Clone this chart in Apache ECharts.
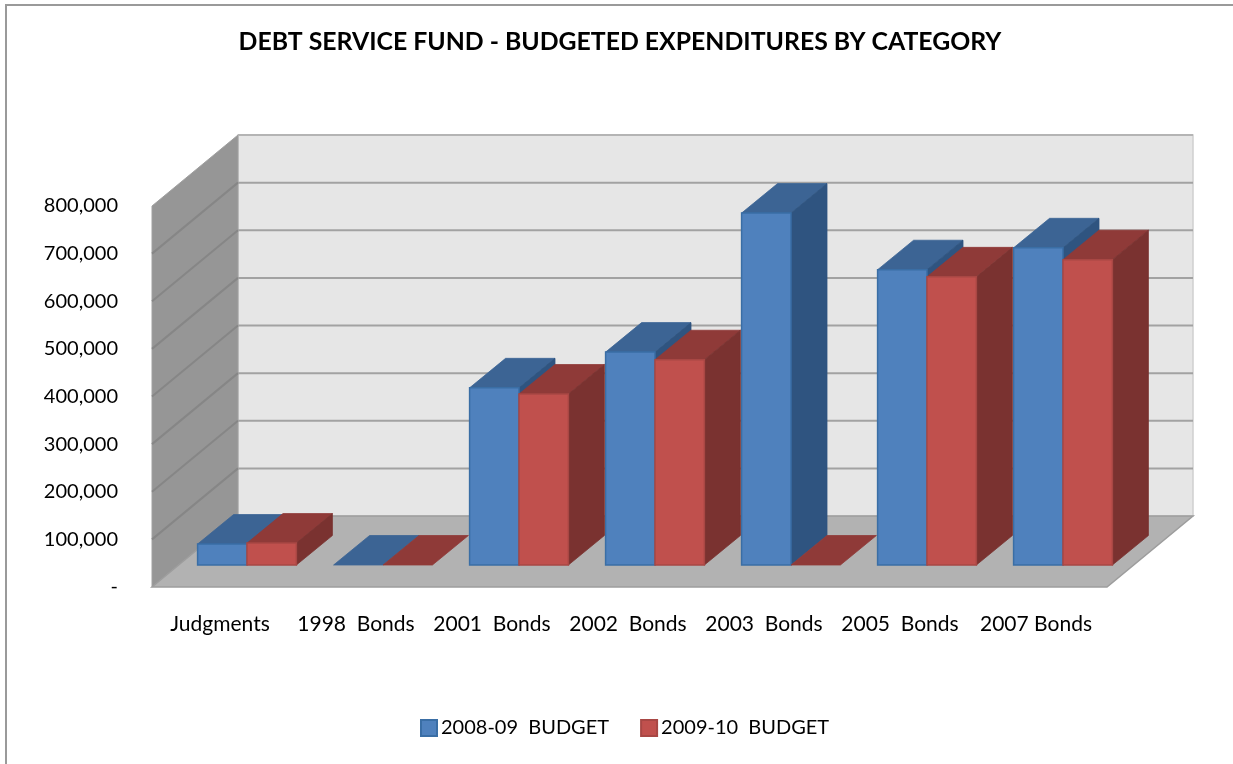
<!DOCTYPE html>
<html>
<head>
<meta charset="utf-8">
<style>html,body{margin:0;padding:0;background:#fff}#chart{width:1233px;height:764px}</style>
<script src="https://cdn.jsdelivr.net/npm/echarts@6/dist/echarts.min.js"></script>
</head>
<body>
<div id="chart"></div>
<script>
const categories = ['Judgments', '1998  Bonds', '2001  Bonds', '2002  Bonds', '2003  Bonds', '2005  Bonds', '2007 Bonds'];
const budget0809 = [44000, 0, 372000, 447000, 739000, 620000, 666000];
const budget0910 = [46000, 0, 359000, 431000, 0, 605000, 641000];
const yTicks = [0, 100000, 200000, 300000, 400000, 500000, 600000, 700000, 800000];

// Oblique projection: how far the back wall sits from the front plane, in pixels.
const WALL_DX = 86, WALL_DY = 71;
// The floor runs a little past the last category slot.
const FLOOR_EXTRA = 3;
// Bars stand part-way into the floor and have their own depth.
const BAR_SHIFT_X = 27, BAR_SHIFT_Y = 22;
const BAR_DX = 36, BAR_DY = 29.5, BAR_W = 49.4;

const FONT = 'Lato, "Open Sans", sans-serif';

function poly(points, fill, stroke, lineWidth) {
  return {
    type: 'polygon',
    shape: { points: points },
    style: { fill: fill, stroke: stroke || fill, lineWidth: lineWidth === undefined ? 0.8 : lineWidth }
  };
}

function line(points, stroke) {
  return { type: 'polyline', shape: { points: points }, style: { fill: 'none', stroke: stroke, lineWidth: 2 } };
}

function renderRoom(params, api) {
  const c = params.coordSys;
  const left = c.x, right = c.x + c.width + FLOOR_EXTRA, top = c.y, bottom = c.y + c.height;
  const children = [
    // back wall
    poly([[left + WALL_DX, top - WALL_DY], [right + WALL_DX, top - WALL_DY],
          [right + WALL_DX, bottom - WALL_DY], [left + WALL_DX, bottom - WALL_DY]], '#e6e6e6', '#cfcfcf', 1.5),
    // side wall
    poly([[left, top], [left + WALL_DX, top - WALL_DY],
          [left + WALL_DX, bottom - WALL_DY], [left, bottom]], '#969696', '#a0a0a0', 1),
    // floor
    poly([[left, bottom], [left + WALL_DX, bottom - WALL_DY],
          [right + WALL_DX, bottom - WALL_DY], [right, bottom]], '#b2b2b2', '#9d9d9d', 1.5)
  ];
  yTicks.forEach(function (v) {
    if (v === 0) return;
    const y = api.coord([0, v])[1];
    if (v < 800000) children.push(line([[left, y], [left + WALL_DX, y - WALL_DY]], '#868686'));
    children.push(line([[left + WALL_DX, y - WALL_DY], [right + WALL_DX, y - WALL_DY]], v < 800000 ? '#a2a2a2' : '#b4b4b4'));
  });
  return { type: 'group', children: children };
}

function barRenderer(side, front, topFace, sideFace, edge) {
  return function (params, api) {
    const cat = api.value(0);
    const base = api.coord([cat, 0]);
    const head = api.coord([cat, api.value(1)]);
    const x0 = base[0] + BAR_SHIFT_X + side * BAR_W;
    const x1 = x0 + BAR_W;
    const y0 = base[1] - BAR_SHIFT_Y;
    const y1 = head[1] - BAR_SHIFT_Y;
    const faces = [
      poly([[x0, y1], [x0 + BAR_DX, y1 - BAR_DY], [x1 + BAR_DX, y1 - BAR_DY], [x1, y1]], topFace)
    ];
    if (y0 - y1 > 0.5) {
      faces.push(poly([[x1, y1], [x1 + BAR_DX, y1 - BAR_DY], [x1 + BAR_DX, y0 - BAR_DY], [x1, y0]], sideFace));
      faces.push(poly([[x0, y0], [x0, y1], [x1, y1], [x1, y0]], front, edge, 1.5));
    }
    return { type: 'group', children: faces };
  };
}

const chart = echarts.init(document.getElementById('chart'), null, { renderer: 'canvas' });
chart.setOption({
  animation: false,
  backgroundColor: '#ffffff',
  title: {
    text: 'DEBT SERVICE FUND - BUDGETED EXPENDITURES BY CATEGORY',
    left: 615,
    top: 25,
    textAlign: 'center',
    textStyle: { fontFamily: FONT, fontSize: 24.8, fontWeight: 'bold', color: '#000' }
  },
  legend: {
    left: 415,
    top: 713,
    itemWidth: 16,
    itemHeight: 16,
    itemGap: 31,
    icon: 'rect',
    data: ['2008-09  BUDGET', '2009-10  BUDGET'],
    textStyle: { fontFamily: FONT, fontSize: 20, color: '#000', padding: [0, 0, 0, -1] }
  },
  grid: { left: 152, right: 129, top: 206, bottom: 177 },
  xAxis: {
    type: 'category',
    data: categories,
    axisLine: { show: false },
    axisTick: { show: false },
    axisLabel: { margin: 27, fontFamily: FONT, fontSize: 21, color: '#000', interval: 0 }
  },
  yAxis: {
    type: 'value',
    min: 0,
    max: 800000,
    interval: 100000,
    axisLine: { show: false },
    axisTick: { show: false },
    splitLine: { show: false },
    axisLabel: {
      margin: 34,
      fontFamily: FONT,
      fontSize: 20,
      color: '#000',
      padding: [2, 0, 0, 0],
      formatter: function (v) { return v === 0 ? '-' : v.toLocaleString('en-US'); }
    }
  },
  series: [
    {
      name: 'room',
      type: 'custom',
      silent: true,
      renderItem: renderRoom,
      data: [[0, 0]]
    },
    {
      name: '2008-09  BUDGET',
      type: 'custom',
      itemStyle: { color: '#4f81bd', borderColor: '#3a6ea5', borderWidth: 1 },
      renderItem: barRenderer(-1, '#4f81bd', '#3c6494', '#2f5480', '#3a6ea5'),
      encode: { x: 0, y: 1 },
      data: budget0809.map(function (v, i) { return [i, v]; })
    },
    {
      name: '2009-10  BUDGET',
      type: 'custom',
      itemStyle: { color: '#c0504d', borderColor: '#a84744', borderWidth: 1 },
      renderItem: barRenderer(0, '#c0504d', '#8f3a38', '#7a3230', '#a84744'),
      encode: { x: 0, y: 1 },
      data: budget0910.map(function (v, i) { return [i, v]; })
    }
  ],
  graphic: [
    {
      type: 'polyline',
      silent: true,
      shape: { points: [[6, 764], [6, 5], [1233, 5]] },
      style: { fill: 'none', stroke: '#9a9a9a', lineWidth: 2 }
    }
  ]
});
</script>
</body>
</html>
